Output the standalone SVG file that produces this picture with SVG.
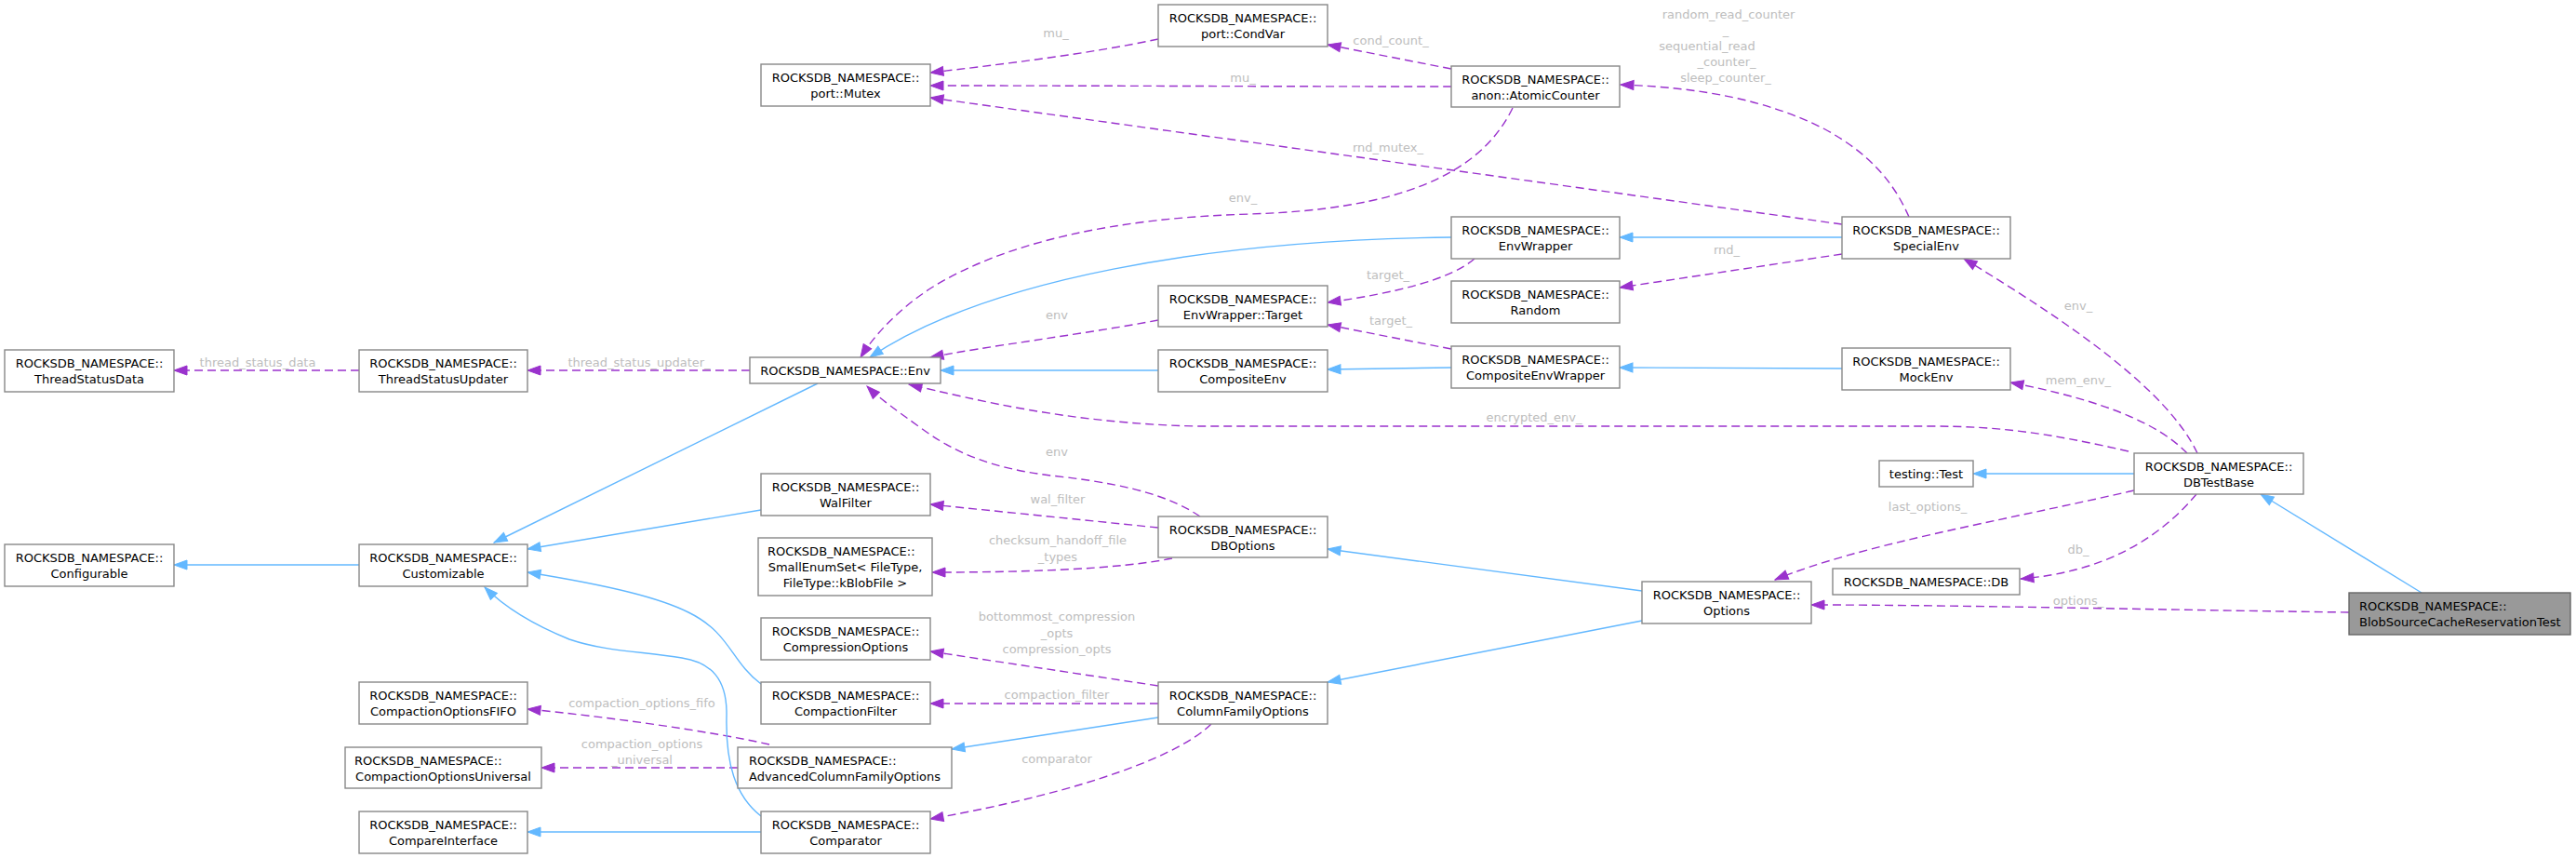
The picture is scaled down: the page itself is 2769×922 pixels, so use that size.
<svg xmlns="http://www.w3.org/2000/svg" width="2769" height="922" viewBox="0 0 2769 922">
<style>
.n rect{fill:#ffffff;stroke:#888888;stroke-width:1.4}
.n text{font-family:"DejaVu Sans",sans-serif;font-size:13px;fill:#000000;text-anchor:middle}
.focus rect{fill:#999999;stroke:#666666}
.n text.s{text-anchor:start}
.u{fill:none;stroke:#9a32cd;stroke-width:1.4;stroke-dasharray:9,5;marker-end:url(#ap)}
.i{fill:none;stroke:#63b8ff;stroke-width:1.4;marker-end:url(#ab)}
.l{font-family:"DejaVu Sans",sans-serif;font-size:13px;fill:#bdbdbd;text-anchor:middle}
</style>
<defs>
<marker id="ap" markerUnits="userSpaceOnUse" markerWidth="16" markerHeight="12" refX="15" refY="6" orient="auto">
<path d="M1,1 L15,6 L1,11 z" fill="#9a32cd" stroke="#9a32cd" stroke-width="1"/>
</marker>
<marker id="ab" markerUnits="userSpaceOnUse" markerWidth="16" markerHeight="12" refX="15" refY="6" orient="auto">
<path d="M1,1 L15,6 L1,11 z" fill="#63b8ff" stroke="#63b8ff" stroke-width="1"/>
</marker>
</defs>
<rect x="0" y="0" width="2769" height="922" fill="#ffffff"/>
<g id="connectors">
<path class="u" d="M1245,42 C1170,58 1070,70 1000,78"/>
<text class="l" x="1135" y="40">mu_</text>
<path class="u" d="M1560,93 C1400,93 1150,92 1000,92"/>
<text class="l" x="1336" y="88">mu_</text>
<path class="u" d="M1980,241 L1000,105"/>
<text class="l" x="1492" y="163">rnd_mutex_</text>
<path class="u" d="M1560,74 L1427,48"/>
<text class="l" x="1495" y="48">cond_count_</text>
<path class="u" d="M2052,233 C2035,195 2010,165 1960,138 C1900,108 1830,94 1742,91"/>
<text class="l" x="1858" y="20">random_read_counter</text>
<text class="l" x="1855" y="37">_</text>
<text class="l" x="1835" y="54">sequential_read</text>
<text class="l" x="1856" y="71">_counter_</text>
<text class="l" x="1855" y="88">sleep_counter_</text>
<path class="u" d="M1626,116 C1590,190 1500,225 1344,230 C1200,234 1080,260 1000,310 C965,333 940,360 925,384"/>
<text class="l" x="1336" y="217">env_</text>
<path class="u" d="M1585,278 C1560,300 1500,315 1427,325"/>
<text class="l" x="1492" y="300">target_</text>
<path class="u" d="M1980,273 L1741,309"/>
<text class="l" x="1856" y="273">rnd_</text>
<path class="u" d="M1245,344 C1160,360 1060,372 1000,384"/>
<text class="l" x="1136" y="343">env</text>
<path class="u" d="M1560,375 L1427,349"/>
<text class="l" x="1495" y="349">target_</text>
<path class="u" d="M2288,485 C2200,465 2150,458 2074,458 L1287,458 C1150,455 1050,430 977,413"/>
<text class="l" x="1649" y="453">encrypted_env_</text>
<path class="u" d="M1290,555 C1260,535 1220,522 1147,513 C1090,507 1040,497 990,460 C965,442 945,428 932,415"/>
<text class="l" x="1136" y="490">env</text>
<path class="u" d="M1245,567 L1000,542"/>
<text class="l" x="1137" y="541">wal_filter</text>
<path class="u" d="M1260,600 C1200,612 1100,615 1002,615"/>
<text class="l" x="1137" y="585">checksum_handoff_file</text>
<text class="l" x="1137" y="603">_types</text>
<path class="u" d="M1245,737 L1000,700"/>
<text class="l" x="1136" y="667">bottommost_compression</text>
<text class="l" x="1136" y="685">_opts</text>
<text class="l" x="1136" y="702">compression_opts</text>
<path class="u" d="M1245,756 L1000,756"/>
<text class="l" x="1136" y="751">compaction_filter</text>
<path class="u" d="M1302,778 C1270,810 1170,850 1000,880"/>
<text class="l" x="1136" y="820">comparator</text>
<path class="u" d="M827,800 C760,785 650,770 567,762"/>
<text class="l" x="690" y="760">compaction_options_fifo</text>
<path class="u" d="M793,825 L582,825"/>
<text class="l" x="690" y="804">compaction_options</text>
<text class="l" x="690" y="821">_universal</text>
<path class="u" d="M386,398 L187,398"/>
<text class="l" x="277" y="394">thread_status_data</text>
<path class="u" d="M806,398 L567,398"/>
<text class="l" x="687" y="394">thread_status_updater_</text>
<path class="u" d="M2362,487 C2330,420 2230,350 2111,278"/>
<text class="l" x="2234" y="333">env_</text>
<path class="u" d="M2351,487 C2320,455 2260,430 2161,411"/>
<text class="l" x="2234" y="413">mem_env_</text>
<path class="u" d="M2294,527 C2150,560 2000,585 1908,623"/>
<text class="l" x="2072" y="549">last_options_</text>
<path class="u" d="M2361,531 C2320,580 2260,615 2172,622"/>
<text class="l" x="2234" y="595">db_</text>
<path class="u" d="M2525,658 C2300,655 2100,650 1947,650"/>
<text class="l" x="2234" y="650">options_</text>
<path class="i" d="M1560,255 C1300,258 1060,300 935,384"/>
<path class="i" d="M1980,255 L1741,255"/>
<path class="i" d="M1245,398 L1011,398"/>
<path class="i" d="M1560,395 L1427,397"/>
<path class="i" d="M1980,396 L1741,395"/>
<path class="i" d="M2294,509 L2121,509"/>
<path class="i" d="M2603,637 L2430,531"/>
<path class="i" d="M1765,635 L1427,590"/>
<path class="i" d="M1765,667 L1427,733"/>
<path class="i" d="M1245,771 L1023,805"/>
<path class="i" d="M879,412 L531,583"/>
<path class="i" d="M818,548 L567,590"/>
<path class="i" d="M818,735 C785,710 785,680 740,658 C710,643 660,630 567,615"/>
<path class="i" d="M818,877 C790,855 780,820 781,770 C782,730 765,712 733,707 C690,700 650,700 612,687 C575,672 545,655 521,631"/>
<path class="i" d="M386,607 L187,607"/>
<path class="i" d="M818,894 L567,894"/>
</g>
<g id="node_mutex" class="n"><rect x="818" y="69" width="182" height="45"/><text x="909" y="88">ROCKSDB_NAMESPACE::</text><text x="909" y="105">port::Mutex</text></g>
<g id="node_condvar" class="n"><rect x="1245" y="5" width="182" height="45"/><text x="1336" y="24">ROCKSDB_NAMESPACE::</text><text x="1336" y="41">port::CondVar</text></g>
<g id="node_atomiccounter" class="n"><rect x="1560" y="71" width="181" height="44"/><text x="1650.5" y="90">ROCKSDB_NAMESPACE::</text><text x="1650.5" y="107">anon::AtomicCounter</text></g>
<g id="node_envwrapper" class="n"><rect x="1560" y="233" width="181" height="45"/><text x="1650.5" y="252">ROCKSDB_NAMESPACE::</text><text x="1650.5" y="269">EnvWrapper</text></g>
<g id="node_random" class="n"><rect x="1560" y="302" width="181" height="45"/><text x="1650.5" y="321">ROCKSDB_NAMESPACE::</text><text x="1650.5" y="338">Random</text></g>
<g id="node_target" class="n"><rect x="1245" y="307" width="182" height="44"/><text x="1336" y="326">ROCKSDB_NAMESPACE::</text><text x="1336" y="343">EnvWrapper::Target</text></g>
<g id="node_compositeenv" class="n"><rect x="1245" y="376" width="182" height="45"/><text x="1336" y="395">ROCKSDB_NAMESPACE::</text><text x="1336" y="412">CompositeEnv</text></g>
<g id="node_compositeenvwrapper" class="n"><rect x="1560" y="372" width="181" height="45"/><text x="1650.5" y="391">ROCKSDB_NAMESPACE::</text><text x="1650.5" y="408">CompositeEnvWrapper</text></g>
<g id="node_specialenv" class="n"><rect x="1980" y="233" width="181" height="45"/><text x="2070.5" y="252">ROCKSDB_NAMESPACE::</text><text x="2070.5" y="269">SpecialEnv</text></g>
<g id="node_mockenv" class="n"><rect x="1980" y="374" width="181" height="45"/><text x="2070.5" y="393">ROCKSDB_NAMESPACE::</text><text x="2070.5" y="410">MockEnv</text></g>
<g id="node_env" class="n"><rect x="806" y="384" width="205" height="28"/><text x="908.5" y="403">ROCKSDB_NAMESPACE::Env</text></g>
<g id="node_threadstatusupdater" class="n"><rect x="386" y="376" width="181" height="45"/><text x="476.5" y="395">ROCKSDB_NAMESPACE::</text><text x="476.5" y="412">ThreadStatusUpdater</text></g>
<g id="node_threadstatusdata" class="n"><rect x="5" y="376" width="182" height="45"/><text x="96" y="395">ROCKSDB_NAMESPACE::</text><text x="96" y="412">ThreadStatusData</text></g>
<g id="node_test" class="n"><rect x="2020" y="495" width="101" height="28"/><text x="2070.5" y="514">testing::Test</text></g>
<g id="node_dbtestbase" class="n"><rect x="2294" y="487" width="182" height="44"/><text x="2385" y="506">ROCKSDB_NAMESPACE::</text><text x="2385" y="523">DBTestBase</text></g>
<g id="node_db" class="n"><rect x="1970" y="611" width="201" height="28"/><text x="2070.5" y="630">ROCKSDB_NAMESPACE::DB</text></g>
<g id="node_options" class="n"><rect x="1765" y="625" width="182" height="45"/><text x="1856" y="644">ROCKSDB_NAMESPACE::</text><text x="1856" y="661">Options</text></g>
<g id="node_blob" class="n focus"><rect x="2525" y="637" width="238" height="45"/><text class="s" x="2536" y="656">ROCKSDB_NAMESPACE::</text><text class="s" x="2536" y="673">BlobSourceCacheReservationTest</text></g>
<g id="node_walfilter" class="n"><rect x="818" y="509" width="182" height="45"/><text x="909" y="528">ROCKSDB_NAMESPACE::</text><text x="909" y="545">WalFilter</text></g>
<g id="node_smallenumset" class="n"><rect x="815" y="578" width="187" height="62"/><text class="s" x="825" y="597">ROCKSDB_NAMESPACE::</text><text x="908.5" y="614">SmallEnumSet&lt; FileType,</text><text x="908.5" y="631">FileType::kBlobFile &gt;</text></g>
<g id="node_dboptions" class="n"><rect x="1245" y="555" width="182" height="44"/><text x="1336" y="574">ROCKSDB_NAMESPACE::</text><text x="1336" y="591">DBOptions</text></g>
<g id="node_configurable" class="n"><rect x="5" y="585" width="182" height="45"/><text x="96" y="604">ROCKSDB_NAMESPACE::</text><text x="96" y="621">Configurable</text></g>
<g id="node_customizable" class="n"><rect x="386" y="585" width="181" height="45"/><text x="476.5" y="604">ROCKSDB_NAMESPACE::</text><text x="476.5" y="621">Customizable</text></g>
<g id="node_compressionoptions" class="n"><rect x="818" y="664" width="182" height="45"/><text x="909" y="683">ROCKSDB_NAMESPACE::</text><text x="909" y="700">CompressionOptions</text></g>
<g id="node_compactionfilter" class="n"><rect x="818" y="733" width="182" height="45"/><text x="909" y="752">ROCKSDB_NAMESPACE::</text><text x="909" y="769">CompactionFilter</text></g>
<g id="node_columnfamilyoptions" class="n"><rect x="1245" y="733" width="182" height="45"/><text x="1336" y="752">ROCKSDB_NAMESPACE::</text><text x="1336" y="769">ColumnFamilyOptions</text></g>
<g id="node_fifo" class="n"><rect x="386" y="733" width="181" height="45"/><text x="476.5" y="752">ROCKSDB_NAMESPACE::</text><text x="476.5" y="769">CompactionOptionsFIFO</text></g>
<g id="node_universal" class="n"><rect x="371" y="803" width="211" height="44"/><text class="s" x="381" y="822">ROCKSDB_NAMESPACE::</text><text x="476.5" y="839">CompactionOptionsUniversal</text></g>
<g id="node_advancedcfo" class="n"><rect x="793" y="803" width="230" height="44"/><text class="s" x="805" y="822">ROCKSDB_NAMESPACE::</text><text x="908" y="839">AdvancedColumnFamilyOptions</text></g>
<g id="node_compareinterface" class="n"><rect x="386" y="872" width="181" height="45"/><text x="476.5" y="891">ROCKSDB_NAMESPACE::</text><text x="476.5" y="908">CompareInterface</text></g>
<g id="node_comparator" class="n"><rect x="818" y="872" width="182" height="45"/><text x="909" y="891">ROCKSDB_NAMESPACE::</text><text x="909" y="908">Comparator</text></g>
</svg>
